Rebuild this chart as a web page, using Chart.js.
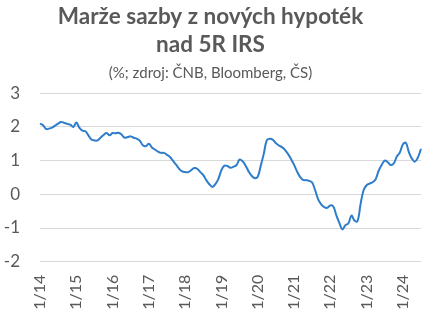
<!DOCTYPE html>
<html>
<head>
<meta charset="utf-8">
<script src="https://cdn.jsdelivr.net/npm/chart.js@4"></script>
<style>
html,body{margin:0;padding:0;background:#fff;}
#wrap{width:440px;height:322px;position:relative;}
</style>
</head>
<body>
<div id="wrap"><canvas id="c" width="440" height="322"></canvas></div>
<script>
const titleLines = ["Marže sazby z nových hypoték", "nad 5R IRS"];
const subtitleText = "(%; zdroj: ČNB, Bloomberg, ČS)";
const startYear = 2014;
const monthCount = 127; // 1/14 .. 7/24
const yTicks = [3, 2, 1, 0, -1, -2];
const margin = [
  2.10, 2.05, 1.94, 1.95, 1.98, 2.04, 2.10, 2.15, 2.12, 2.09, 2.07, 2.00,
  2.13, 1.98, 1.89, 1.87, 1.75, 1.63, 1.60, 1.60, 1.68, 1.76, 1.82, 1.75,
  1.82, 1.81, 1.83, 1.77, 1.68, 1.70, 1.72, 1.68, 1.65, 1.59, 1.46, 1.43,
  1.50, 1.39, 1.33, 1.27, 1.23, 1.23, 1.17, 1.11, 0.99, 0.88, 0.76, 0.68,
  0.66, 0.66, 0.72, 0.78, 0.76, 0.66, 0.57, 0.42, 0.30, 0.22, 0.30, 0.46,
  0.72, 0.85, 0.84, 0.79, 0.82, 0.87, 1.03, 0.98, 0.85, 0.68, 0.55, 0.48,
  0.52, 0.85, 1.20, 1.60, 1.65, 1.62, 1.52, 1.45, 1.40, 1.32, 1.20, 1.05,
  0.88, 0.68, 0.52, 0.43, 0.42, 0.40, 0.35, 0.12, -0.15, -0.30, -0.38, -0.40,
  -0.33, -0.36, -0.62, -0.85, -1.04, -0.92, -0.86, -0.63, -0.78, -0.80, -0.30, 0.12,
  0.27, 0.32, 0.36, 0.45, 0.70, 0.87, 1.00, 0.95, 0.87, 0.92, 1.12, 1.24,
  1.48, 1.53, 1.25, 1.06, 0.97, 1.10, 1.35
];

const categories = [];
for (let i = 0; i < monthCount; i++) {
  const m = (i % 12) + 1;
  const y = (startYear + Math.floor(i / 12)) % 100;
  categories.push(m + "/" + String(y).padStart(2, "0"));
}

const gray = "#595959";
new Chart(document.getElementById("c"), {
  type: "line",
  data: {
    labels: categories,
    datasets: [{
      data: margin,
      borderColor: "#2E7DCB",
      borderWidth: 2,
      pointRadius: 0,
      tension: 0.4,
      fill: false
    }]
  },
  options: {
    responsive: false,
    animation: false,
    layout: { padding: { left: 0, right: 19, top: 0, bottom: 0 } },
    plugins: {
      legend: { display: false },
      tooltip: { enabled: false },
      title: {
        display: true,
        text: titleLines,
        color: gray,
        font: { family: "Lato", size: 22.5, weight: "bold", lineHeight: 1.25 },
        padding: { top: 3, bottom: 5 }
      },
      subtitle: {
        display: true,
        text: subtitleText,
        color: gray,
        font: { family: "Lato", size: 15, lineHeight: 1.2 },
        padding: { top: 0, bottom: 11 }
      }
    },
    scales: {
      x: {
        type: "category",
        offset: false,
        grid: { display: false },
        border: { display: false },
        afterFit: function (scale) { scale.height = 60.3; },
        ticks: {
          autoSkip: false,
          minRotation: 90,
          maxRotation: 90,
          color: gray,
          font: { family: "Lato", size: 16 },
          padding: 5,
          callback: function (value) {
            const lab = this.getLabelForValue(value);
            return lab.startsWith("1/") ? lab : null;
          }
        }
      },
      y: {
        min: Math.min(...yTicks),
        max: Math.max(...yTicks),
        afterBuildTicks: function (scale) {
          scale.ticks = yTicks.map(v => ({ value: v }));
        },
        afterFit: function (scale) { scale.width = 40; },
        grid: { color: "#D9D9D9", lineWidth: 1, drawTicks: false },
        border: { display: false },
        ticks: {
          color: gray,
          font: { family: "Lato", size: 17 },
          padding: 20
        }
      }
    }
  }
});
</script>
</body>
</html>
